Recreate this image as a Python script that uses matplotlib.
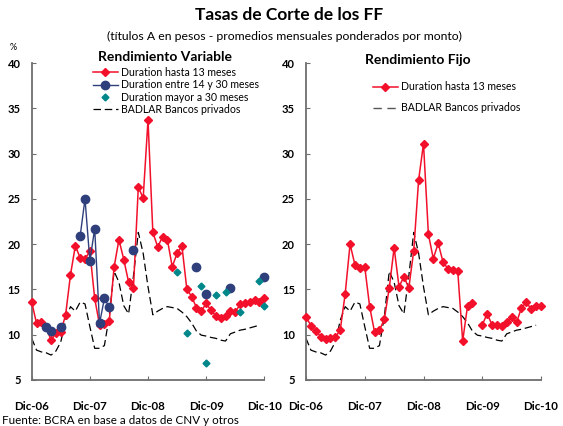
import numpy as np
import matplotlib
matplotlib.use("Agg")
import matplotlib.pyplot as plt
from matplotlib.lines import Line2D

plt.rcParams["font.family"] = ["Lato", "DejaVu Sans"]

nan = np.nan
# monthly, Dic-06 .. Dic-10 (49 months)
tick_pos = [0, 12, 24, 36, 48]
tick_labels = ["Dic-06", "Dic-07", "Dic-08", "Dic-09", "Dic-10"]

var_hasta13 = [13.6, 11.25, 11.4, 10.8, 9.4, 10.2, 10.3, 12.2, 16.6, 19.8, 18.5, 18.4,
               19.2, 14.0, 11.1, 11.2, 11.5, 17.45, 20.5, 18.3, 15.8, 15.2, 26.3, 25.07,
               33.7, 21.3, 19.7, 20.8, 20.5, 17.5, 19.0, 19.8, 15.1, 14.2, 13.0, 12.6,
               13.45, 12.7, 12.1, 11.9, 12.1, 12.6, 12.5, 13.35, 13.55, 13.6, 13.8, 13.6,
               14.0]
var_14a30 = [nan, nan, nan, 10.9, 10.45, nan, 10.85, nan, nan, nan, 20.9, 25.0,
             18.15, 21.7, 11.25, 14.0, 13.05, nan, nan, nan, nan, 19.4, nan, nan,
             nan, nan, nan, nan, nan, nan, nan, nan, nan, nan, 17.5, nan,
             14.5, nan, nan, nan, nan, 15.2, nan, nan, nan, nan, nan, nan,
             16.4]
var_mayor30 = [nan] * 30 + [16.95, nan, 10.15, nan, nan, 15.4, 6.85, nan, 14.4, nan,
                            14.7, nan, nan, 12.5, nan, nan, nan, 15.9, 13.2]
fijo_hasta13 = [12.0, 11.0, 10.4, 9.8, 9.55, 9.6, 9.7, 10.55, 14.5, 20.0, 17.7, 17.4,
                17.5, 13.1, 10.3, 10.5, 11.7, 15.15, 19.6, 15.3, 16.4, 15.15, 19.25, 27.07,
                31.1, 21.1, 18.4, 20.1, 18.0, 17.3, 17.2, 17.0, 9.3, 13.2, 13.45, nan,
                11.1, 12.3, 11.1, 11.1, 10.95, 11.4, 12.0, 11.35, 12.95, 13.6, 12.8, 13.15,
                13.15]
badlar = [9.6, 8.3, 8.1, 8.0, 7.75, 8.2, 9.2, 11.6, 13.1, 12.6, 13.6, 13.4,
          10.9, 8.5, 8.5, 8.8, 12.0, 17.0, 15.8, 13.2, 12.3, 16.5, 21.3, 19.0,
          15.3, 12.2, 12.6, 12.9, 13.1, 13.0, 12.9, 12.5, 12.0, 11.3, 10.4, 9.95,
          9.85, 9.7, 9.6, 9.4, 9.3, 10.1, 10.3, 10.5, 10.6, 10.75, 10.9, 11.05,
          nan]

RED = "#F2102B"
NAVY = "#2E3F7C"
TEAL = "#00878A"
months = np.arange(len(var_hasta13))

fig = plt.figure(figsize=(5.63, 4.26), dpi=100)
W, H = 563, 426
axL = fig.add_axes([31.7 / W, 1 - 380 / H, 232.6 / W, 317 / H])
axR = fig.add_axes([306 / W, 1 - 380 / H, 235 / W, 317 / H])

for ax in (axL, axR):
    ax.set_xlim(0, 48)
    ax.set_ylim(5, 40)
    ax.set_yticks(range(5, 41, 5))
    ax.set_xticks(tick_pos)
    ax.set_xticklabels(tick_labels)
    for s in ("top", "right"):
        ax.spines[s].set_visible(False)
    for s in ("left", "bottom"):
        ax.spines[s].set_color("#6e6e6e")
        ax.spines[s].set_linewidth(1.3)
    ax.tick_params(axis="both", direction="in", length=3, color="#6e6e6e",
                   labelsize=8)
    ax.tick_params(axis="x", pad=15, labelsize=8.3)
    ax.tick_params(axis="y", pad=8)
    for lab in ax.get_xticklabels() + ax.get_yticklabels():
        lab.set_fontweight("bold")
    ax.plot(months, badlar, color="black", lw=0.9, dashes=(6, 3))

axL.plot(months, var_hasta13, color=RED, lw=1.1, marker="D", ms=4.5, mec=RED, mfc=RED,
         clip_on=False, zorder=3)
axL.plot(months, var_14a30, color=NAVY, lw=1.0, marker="o", ms=6, mec=NAVY, mfc=NAVY,
         clip_on=False, zorder=4)
axL.plot(months, var_mayor30, ls="none", marker="D", ms=3.5, color=TEAL,
         clip_on=False, zorder=4)
axR.plot(months, fijo_hasta13, color=RED, lw=1.1, marker="D", ms=4.5, mec=RED, mfc=RED,
         clip_on=False, zorder=3)

hL = [Line2D([], [], color=RED, lw=1.1, marker="D", ms=4.5),
      Line2D([], [], color=NAVY, lw=1.0, marker="o", ms=6),
      Line2D([], [], ls="none", marker="D", ms=3.5, color=TEAL),
      Line2D([], [], color="black", lw=0.9, dashes=(6, 3))]
axL.legend(hL, ["Duration hasta 13 meses", "Duration entre 14 y 30 meses",
                "Duration mayor a 30 meses", "BADLAR Bancos privados"],
           loc="upper left", bbox_to_anchor=(0.262, 0.987), frameon=False,
           fontsize=7.6, handlelength=2.4, handletextpad=0.3, labelspacing=0.12,
           borderpad=0, borderaxespad=0)
hR = [Line2D([], [], color=RED, lw=1.1, marker="D", ms=4.5),
      Line2D([], [], color="#555555", lw=1.0, dashes=(6, 4))]
axR.legend(hR, ["Duration hasta 13 meses", "BADLAR Bancos privados"],
           loc="upper left", bbox_to_anchor=(0.284, 0.942), frameon=False,
           fontsize=7.6, handlelength=2.4, handletextpad=0.3, labelspacing=0.95,
           borderpad=0, borderaxespad=0)

fig.text(289 / W, 1 - 15 / H, "Tasas de Corte de los FF", ha="center", va="center",
         fontsize=12.5, fontweight="bold")
fig.text(284 / W, 1 - 36 / H,
         "(títulos A en pesos - promedios mensuales ponderados por monto)",
         ha="center", va="center", fontsize=8.8)
fig.text(13 / W, 1 - 47 / H, "%", ha="center", va="center", fontsize=6.5)
fig.text(165 / W, 1 - 57 / H, "Rendimiento Variable", ha="center", va="center",
         fontsize=10, fontweight="bold")
fig.text(418 / W, 1 - 60 / H, "Rendimiento Fijo", ha="center", va="center",
         fontsize=10, fontweight="bold")
fig.text(2 / W, 1 - 420 / H, "Fuente: BCRA en base a datos de CNV y otros",
         ha="left", va="center", fontsize=8.4)

fig.savefig("out.png", dpi=100)
